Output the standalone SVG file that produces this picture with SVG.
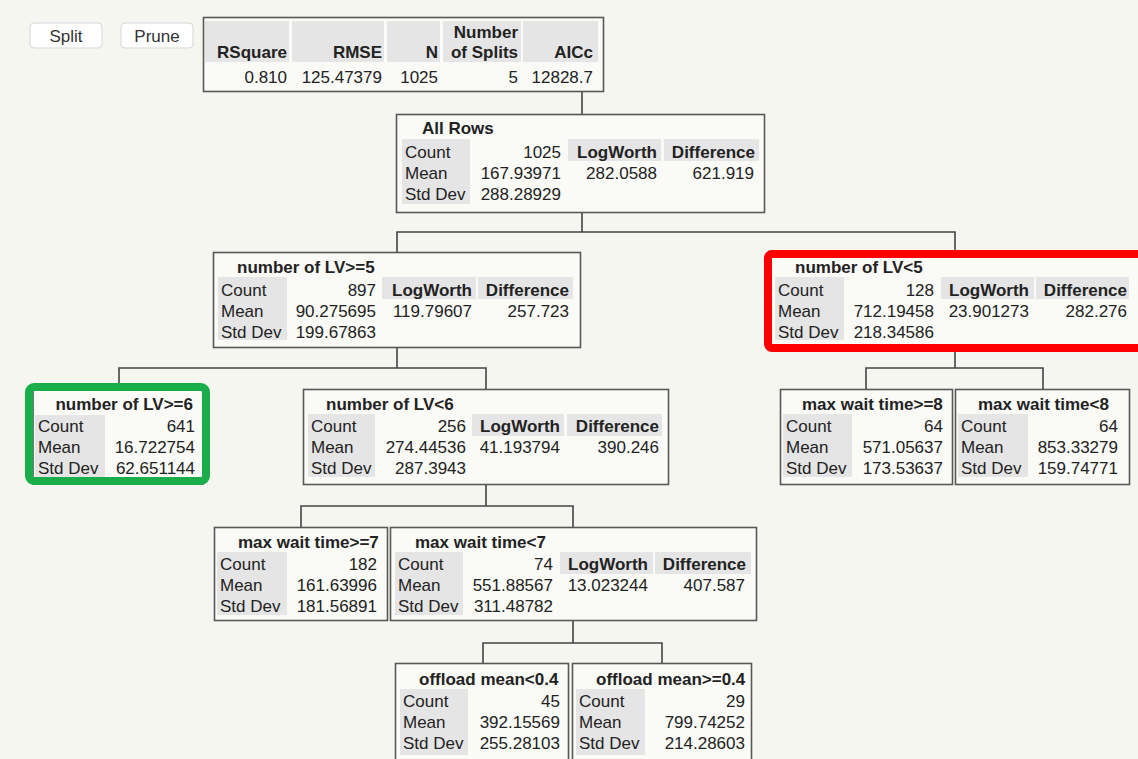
<svg xmlns="http://www.w3.org/2000/svg" width="1138" height="759" viewBox="0 0 1138 759">
<style>
.t{font-family:"Liberation Sans",Arial,sans-serif;font-size:17px;fill:#222}
.b{font-weight:bold}
.r{text-anchor:end}
.c{text-anchor:middle}
.bx{fill:#fafaf7;stroke:#585858;stroke-width:1.6}
.g{fill:#e5e5e5}
.btn{fill:#ffffff;stroke:#d6d6d6;stroke-width:1}
.cn{fill:none;stroke:#444;stroke-width:1.6}
.red{fill:none;stroke:#ff0000;stroke-width:8}
.grn{fill:none;stroke:#19ae4a;stroke-width:8}
</style>
<rect width="1138" height="759" fill="#f6f6f1"/>

<g id="connectors">
<path class="cn" d="M582 92V114"/>
<path class="cn" d="M582 212V232M397 252V232H955V250"/>
<path class="cn" d="M397 347V368M119 384V368H486V389"/>
<path class="cn" d="M955 352V368M866 389V368H1043V389"/>
<path class="cn" d="M486 485V506M301 527V506H573V527"/>
<path class="cn" d="M573 621V643M483 663V643H662V663"/>
</g>

<g id="buttons">
<g id="btn-split"><rect class="btn" x="30" y="23" width="72" height="25" rx="4"/><text class="t c" x="66" y="42" style="fill:#333">Split</text></g>
<g id="btn-prune"><rect class="btn" x="121" y="23" width="72" height="25" rx="4"/><text class="t c" x="157" y="42" style="fill:#333">Prune</text></g>
</g>

<g id="summary">
<rect class="bx" x="203.5" y="17.5" width="400" height="74"/>
<rect class="g" x="205" y="21" width="84" height="41"/>
<rect class="g" x="292" y="21" width="92" height="41"/>
<rect class="g" x="387" y="21" width="53" height="41"/>
<rect class="g" x="443" y="21" width="78" height="41"/>
<rect class="g" x="523" y="21" width="75" height="41"/>
<text class="t b r" x="287" y="58">RSquare</text>
<text class="t b r" x="382" y="58">RMSE</text>
<text class="t b r" x="438" y="58">N</text>
<text class="t b r" x="518" y="38">Number</text>
<text class="t b r" x="518" y="58">of Splits</text>
<text class="t b r" x="593" y="58">AICc</text>
<text class="t r" x="287" y="83">0.810</text>
<text class="t r" x="382" y="83">125.47379</text>
<text class="t r" x="438" y="83">1025</text>
<text class="t r" x="518" y="83">5</text>
<text class="t r" x="593" y="83">12828.7</text>
</g>

<g id="node-all-rows">
<rect class="bx" x="396.5" y="114.5" width="368" height="98"/>
<rect class="g" x="402" y="139" width="68" height="65"/>
<rect class="g" x="568" y="139" width="93" height="22"/>
<rect class="g" x="664" y="139" width="95" height="22"/>
<text class="t b" x="422" y="134">All Rows</text>
<text class="t" x="405" y="158">Count</text>
<text class="t" x="405" y="179">Mean</text>
<text class="t" x="405" y="200">Std Dev</text>
<text class="t r" x="561" y="158">1025</text>
<text class="t r" x="561" y="179">167.93971</text>
<text class="t r" x="561" y="200">288.28929</text>
<text class="t b r" x="657" y="158">LogWorth</text>
<text class="t b r" x="755" y="158">Difference</text>
<text class="t r" x="657" y="179">282.0588</text>
<text class="t r" x="754" y="179">621.919</text>
</g>

<g id="node-lv-ge5">
<rect class="bx" x="213.5" y="252.5" width="367" height="95"/>
<rect class="g" x="218" y="277" width="69" height="63"/>
<rect class="g" x="382" y="277" width="94" height="22"/>
<rect class="g" x="478" y="277" width="95" height="22"/>
<text class="t b" x="237" y="273">number of LV&gt;=5</text>
<text class="t" x="221" y="296">Count</text>
<text class="t" x="221" y="317">Mean</text>
<text class="t" x="221" y="338">Std Dev</text>
<text class="t r" x="376" y="296">897</text>
<text class="t r" x="376" y="317">90.275695</text>
<text class="t r" x="376" y="338">199.67863</text>
<text class="t b r" x="472" y="296">LogWorth</text>
<text class="t b r" x="569" y="296">Difference</text>
<text class="t r" x="472" y="317">119.79607</text>
<text class="t r" x="569" y="317">257.723</text>
</g>

<g id="node-lv-lt5">
<rect class="bx" x="770" y="254" width="380" height="95"/>
<rect class="g" x="775" y="277" width="69" height="63"/>
<rect class="g" x="941" y="277" width="93" height="22"/>
<rect class="g" x="1036" y="277" width="93" height="22"/>
<text class="t b" x="795" y="273">number of LV&lt;5</text>
<text class="t" x="778" y="296">Count</text>
<text class="t" x="778" y="317">Mean</text>
<text class="t" x="778" y="338">Std Dev</text>
<text class="t r" x="934" y="296">128</text>
<text class="t r" x="934" y="317">712.19458</text>
<text class="t r" x="934" y="338">218.34586</text>
<text class="t b r" x="1029" y="296">LogWorth</text>
<text class="t b r" x="1127" y="296">Difference</text>
<text class="t r" x="1029" y="317">23.901273</text>
<text class="t r" x="1127" y="317">282.276</text>
<rect class="red" x="768" y="254" width="400" height="94" rx="4"/>
</g>

<g id="node-lv-ge6">
<rect class="bx" x="33" y="389" width="170" height="95"/>
<rect class="g" x="35" y="415" width="70" height="62"/>
<text class="t b r" x="193" y="410">number of LV&gt;=6</text>
<text class="t" x="38" y="432">Count</text>
<text class="t" x="38" y="453">Mean</text>
<text class="t" x="38" y="474">Std Dev</text>
<text class="t r" x="195" y="432">641</text>
<text class="t r" x="195" y="453">16.722754</text>
<text class="t r" x="195" y="474">62.651144</text>
<rect class="grn" x="29" y="387" width="177" height="94" rx="5"/>
</g>

<g id="node-lv-lt6">
<rect class="bx" x="303.5" y="389.5" width="365" height="95"/>
<rect class="g" x="308" y="414" width="67" height="63"/>
<rect class="g" x="472" y="414" width="92" height="22"/>
<rect class="g" x="567" y="414" width="95" height="22"/>
<text class="t b" x="326" y="410">number of LV&lt;6</text>
<text class="t" x="311" y="432">Count</text>
<text class="t" x="311" y="453">Mean</text>
<text class="t" x="311" y="474">Std Dev</text>
<text class="t r" x="466" y="432">256</text>
<text class="t r" x="466" y="453">274.44536</text>
<text class="t r" x="466" y="474">287.3943</text>
<text class="t b r" x="560" y="432">LogWorth</text>
<text class="t b r" x="659" y="432">Difference</text>
<text class="t r" x="560" y="453">41.193794</text>
<text class="t r" x="659" y="453">390.246</text>
</g>

<g id="node-mwt-ge8">
<rect class="bx" x="780.5" y="389.5" width="172" height="95"/>
<rect class="g" x="783" y="414" width="69" height="63"/>
<text class="t b" x="802" y="410">max wait time&gt;=8</text>
<text class="t" x="786" y="432">Count</text>
<text class="t" x="786" y="453">Mean</text>
<text class="t" x="786" y="474">Std Dev</text>
<text class="t r" x="943" y="432">64</text>
<text class="t r" x="943" y="453">571.05637</text>
<text class="t r" x="943" y="474">173.53637</text>
</g>

<g id="node-mwt-lt8">
<rect class="bx" x="955.5" y="389.5" width="174" height="95"/>
<rect class="g" x="958" y="414" width="70" height="63"/>
<text class="t b" x="978" y="410">max wait time&lt;8</text>
<text class="t" x="961" y="432">Count</text>
<text class="t" x="961" y="453">Mean</text>
<text class="t" x="961" y="474">Std Dev</text>
<text class="t r" x="1118" y="432">64</text>
<text class="t r" x="1118" y="453">853.33279</text>
<text class="t r" x="1118" y="474">159.74771</text>
</g>

<g id="node-mwt-ge7">
<rect class="bx" x="214.5" y="527.5" width="173" height="93"/>
<rect class="g" x="217" y="552" width="70" height="63"/>
<text class="t b" x="238" y="548">max wait time&gt;=7</text>
<text class="t" x="220" y="570">Count</text>
<text class="t" x="220" y="591">Mean</text>
<text class="t" x="220" y="612">Std Dev</text>
<text class="t r" x="377" y="570">182</text>
<text class="t r" x="377" y="591">161.63996</text>
<text class="t r" x="377" y="612">181.56891</text>
</g>

<g id="node-mwt-lt7">
<rect class="bx" x="390.5" y="527.5" width="366" height="93"/>
<rect class="g" x="395" y="552" width="68" height="63"/>
<rect class="g" x="560" y="552" width="93" height="22"/>
<rect class="g" x="655" y="552" width="96" height="22"/>
<text class="t b" x="415" y="548">max wait time&lt;7</text>
<text class="t" x="398" y="570">Count</text>
<text class="t" x="398" y="591">Mean</text>
<text class="t" x="398" y="612">Std Dev</text>
<text class="t r" x="553" y="570">74</text>
<text class="t r" x="553" y="591">551.88567</text>
<text class="t r" x="553" y="612">311.48782</text>
<text class="t b r" x="648" y="570">LogWorth</text>
<text class="t b r" x="746" y="570">Difference</text>
<text class="t r" x="648" y="591">13.023244</text>
<text class="t r" x="745" y="591">407.587</text>
</g>

<g id="node-off-lt04">
<rect class="bx" x="395.5" y="663.5" width="173" height="100"/>
<rect class="g" x="400" y="689" width="68" height="66"/>
<text class="t b" x="419" y="685">offload mean&lt;0.4</text>
<text class="t" x="403" y="707">Count</text>
<text class="t" x="403" y="728">Mean</text>
<text class="t" x="403" y="749">Std Dev</text>
<text class="t r" x="560" y="707">45</text>
<text class="t r" x="560" y="728">392.15569</text>
<text class="t r" x="560" y="749">255.28103</text>
</g>

<g id="node-off-ge04">
<rect class="bx" x="572.5" y="663.5" width="179" height="100"/>
<rect class="g" x="576" y="689" width="69" height="66"/>
<text class="t b" x="596" y="685">offload mean&gt;=0.4</text>
<text class="t" x="579" y="707">Count</text>
<text class="t" x="579" y="728">Mean</text>
<text class="t" x="579" y="749">Std Dev</text>
<text class="t r" x="745" y="707">29</text>
<text class="t r" x="745" y="728">799.74252</text>
<text class="t r" x="745" y="749">214.28603</text>
</g>
</svg>
